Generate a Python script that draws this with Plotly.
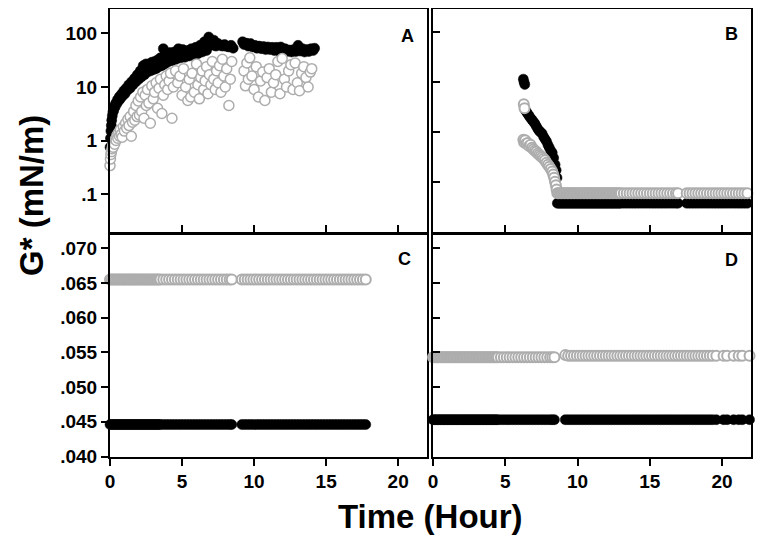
# -*- coding: utf-8 -*-
"""
G* against time, four panels (A, B: log scale; C, D: linear scale)
"""

import plotly.graph_objects as go

# %% Data

# panel A: filled (black) and open (grey) series
a_black_t = [0.00, 0.03, 0.06, 0.09, 0.12, 0.16, 0.20, 0.25, 0.30, 0.35, 0.40,
             0.46, 0.52, 0.58, 0.65, 0.72, 0.80, 0.88, 0.96, 1.04, 1.12, 1.20,
             1.30, 1.40, 1.50, 1.60, 1.70, 1.80, 1.90, 2.00, 2.10, 2.20, 2.30,
             2.40, 2.50, 2.60, 2.70, 2.80, 2.90, 3.00, 3.10, 3.20, 3.30, 3.40,
             3.50, 3.60, 3.70, 3.80, 3.90, 4.00, 4.15, 4.30, 4.45, 4.60, 4.75,
             4.90, 5.05, 5.20, 5.35, 5.50, 5.65, 5.80, 5.95, 6.10, 6.25, 6.40,
             6.55, 6.70, 6.85, 6.95, 7.05, 7.20, 7.35, 7.50, 7.65, 7.80, 7.95,
             8.10, 8.25, 8.40, 8.55,
             9.20, 9.30, 9.45, 9.60, 9.75, 9.90, 10.05, 10.20, 10.35, 10.50,
             10.65, 10.80, 10.95, 11.10, 11.25, 11.40, 11.55, 11.70, 11.85,
             12.00, 12.15, 12.30, 12.45, 12.60, 12.75, 12.90, 13.05, 13.20,
             13.35, 13.50, 13.65, 13.80, 13.95, 14.10, 14.20]
a_black = [0.75, 1.1, 1.5, 1.9, 2.4, 2.9, 3.4, 3.6, 4.4, 4.2, 5.0,
           4.8, 5.8, 5.4, 6.6, 6.0, 7.4, 6.8, 8.5, 7.5, 9.5, 8.6,
           11.0, 9.5, 12.5, 11.0, 14.5, 12.5, 17.0, 14.0, 20.0, 15.5, 25.0,
           17.0, 27.0, 19.0, 27.0, 20.0, 29.0, 21.0, 30.0, 22.0, 32.0, 24.0,
           35.0, 25.0, 52.0, 27.0, 42.0, 29.0, 44.0, 31.0, 45.0, 33.0, 52.0,
           35.0, 50.0, 36.0, 48.0, 38.0, 52.0, 39.0, 55.0, 42.0, 60.0, 45.0,
           70.0, 48.0, 86.0, 75.0, 60.0, 75.0, 58.0, 65.0, 60.0, 58.0, 62.0,
           57.0, 56.0, 60.0, 53.0,
           70.0, 62.0, 66.0, 58.0, 65.0, 56.0, 60.0, 53.0, 58.0, 52.0,
           57.0, 50.0, 56.0, 50.0, 55.0, 48.0, 55.0, 47.0, 56.0,
           46.0, 52.0, 46.0, 49.0, 45.0, 50.0, 46.0, 60.0, 47.0,
           52.0, 45.0, 50.0, 46.0, 52.0, 48.0, 53.0]

a_grey_t = [0.00, 0.03, 0.06, 0.10, 0.14, 0.18, 0.22, 0.27, 0.32, 0.37,
            0.42, 0.48, 0.54, 0.60, 0.66, 0.72, 0.78, 0.85, 0.92, 1.00,
            1.08, 1.16, 1.24, 1.32, 1.40, 1.48, 1.56, 1.64, 1.72, 1.80,
            1.88, 1.96, 2.04, 2.12, 2.20, 2.28, 2.36, 2.44, 2.52, 2.60,
            2.70, 2.80, 2.90, 3.00, 3.10, 3.20, 3.30, 3.40, 3.50, 3.60,
            3.70, 3.80, 3.90, 4.00, 4.10, 4.20, 4.30, 4.40, 4.55, 4.70,
            4.85, 5.00, 5.10, 5.25, 5.40, 5.50, 5.60, 5.70, 5.85, 6.00,
            6.10, 6.20, 6.30, 6.40, 6.50, 6.60, 6.70, 6.80, 6.90, 7.00,
            7.10, 7.20, 7.30, 7.40, 7.50, 7.60, 7.70, 7.80, 7.90, 8.00,
            8.10, 8.25, 8.35, 8.45,
            9.30, 9.40, 9.50, 9.60, 9.70, 9.85, 10.00, 10.15, 10.30, 10.45,
            10.60, 10.75, 10.90, 11.05, 11.20, 11.35, 11.50, 11.65, 11.80, 11.95,
            12.10, 12.25, 12.40, 12.55, 12.70, 12.85, 13.00, 13.15, 13.30, 13.45,
            13.60, 13.75, 13.90, 14.00]
a_grey = [0.34, 0.45, 0.55, 0.62, 0.70, 0.80, 0.75, 0.95, 0.85, 1.05,
          1.00, 1.25, 1.10, 1.40, 1.20, 1.60, 1.30, 1.15, 1.80, 1.50,
          2.10, 1.70, 2.50, 1.90, 2.80, 1.20, 2.20, 3.50, 2.40, 4.50,
          2.80, 5.50, 3.00, 6.50, 3.50, 8.0, 2.60, 7.0, 4.5, 9.0,
          5.0, 2.1, 10.5, 6.0, 8.0, 12.0, 4.0, 9.5, 14.0, 3.2,
          7.0, 11.0, 16.0, 9.0, 13.0, 18.0, 2.6, 10.0, 20.0, 12.0,
          16.0, 7.0, 22.0, 10.0, 5.6, 14.0, 6.5, 18.0, 8.0, 27.0,
          11.0, 6.0, 15.0, 20.0, 9.0, 13.0, 24.0, 7.5, 17.0, 11.0,
          30.0, 14.0, 9.0, 20.0, 12.0, 25.0, 8.0, 33.0, 16.0, 10.0,
          22.0, 4.5, 14.0, 30.0,
          20.0, 10.5, 28.0, 14.0, 35.0, 16.0, 9.0, 24.0, 6.5, 13.0,
          19.0, 5.6, 15.0, 22.0, 8.0, 12.0, 17.0, 30.0, 7.5, 34.0,
          14.0, 10.0, 20.0, 26.0, 9.0, 28.0, 12.0, 8.5, 18.0, 24.0,
          15.0, 10.0, 19.0, 22.0]

# panel B: drop after ~6 h, then a plateau sampled at shared times
b_black_drop_t = [6.25, 6.30, 6.35, 6.40, 6.48, 6.56, 6.65, 6.75, 6.85, 6.95,
                  7.05, 7.15, 7.25, 7.35, 7.45, 7.55, 7.65, 7.75, 7.85, 7.95,
                  8.05, 8.15, 8.25, 8.35, 8.45, 8.52, 8.58, 8.60]
b_black_drop = [11.5, 10.0, 9.0, 2.7, 2.5, 2.3, 2.1, 1.9, 1.75, 1.6,
                1.47, 1.3, 1.15, 1.05, 0.98, 0.93, 0.8, 0.72, 0.65, 0.55,
                0.48, 0.42, 0.38, 0.3, 0.22, 0.17, 0.12, 0.07]
b_grey_drop_t = [6.25, 6.28, 6.33, 6.30, 6.38, 6.45, 6.55, 6.65, 6.75, 6.85,
                 6.95, 7.05, 7.15, 7.25, 7.35, 7.45, 7.55, 7.65, 7.75, 7.85,
                 7.95, 8.05, 8.15, 8.25, 8.32, 8.38, 8.44, 8.50, 8.55]
b_grey_drop = [0.70, 3.6, 3.0, 0.62, 0.68, 0.58, 0.60, 0.52, 0.55, 0.48,
               0.45, 0.42, 0.40, 0.37, 0.35, 0.33, 0.31, 0.29, 0.27, 0.24,
               0.22, 0.20, 0.18, 0.16, 0.14, 0.12, 0.10, 0.085, 0.07]
b_flat_t = [8.6, 8.7, 8.8, 8.9, 9.0, 9.1, 9.2, 9.3, 9.4, 9.5, 9.6, 9.7, 9.8,
            9.9, 10.0, 10.1, 10.2, 10.3, 10.4, 10.5, 10.6, 10.7, 10.8, 10.9,
            11.0, 11.1, 11.2, 11.3, 11.4, 11.5, 11.6, 11.7, 11.8, 11.9, 12.0,
            12.1, 12.2, 12.3, 12.4, 12.5, 12.6, 12.7, 12.8, 12.9, 13.0,
            13.2, 13.4, 13.6, 13.8, 14.0, 14.2, 14.4, 14.6, 14.8, 15.0, 15.2,
            15.4, 15.6, 15.8, 16.0, 16.2, 16.4, 16.6, 16.8, 16.95,
            17.55, 17.75, 17.95, 18.15, 18.35, 18.55, 18.75, 18.95, 19.15,
            19.35, 19.55, 19.75, 19.95, 20.15, 20.35, 20.55, 20.75, 20.95,
            21.15, 21.35, 21.55, 21.75]
b_black_flat = [0.037, 0.037, 0.037, 0.037, 0.037, 0.037, 0.037, 0.037, 0.037,
                0.037, 0.037, 0.037, 0.037, 0.037, 0.037, 0.037, 0.037, 0.037,
                0.037, 0.037, 0.037, 0.037, 0.037, 0.037, 0.037, 0.037, 0.037,
                0.037, 0.037, 0.037, 0.037, 0.037, 0.037, 0.037, 0.037, 0.037,
                0.037, 0.037, 0.037, 0.037, 0.037, 0.037, 0.037, 0.037, 0.037,
                0.037, 0.037, 0.037, 0.037, 0.037, 0.037, 0.037, 0.037, 0.037,
                0.037, 0.037, 0.037, 0.037, 0.037, 0.037, 0.037, 0.037, 0.037,
                0.037, 0.037,
                0.037, 0.037, 0.037, 0.037, 0.037, 0.037, 0.037, 0.037, 0.037,
                0.037, 0.037, 0.037, 0.037, 0.037, 0.037, 0.037, 0.037, 0.037,
                0.037, 0.037, 0.037, 0.037]
b_grey_flat = [0.059, 0.059, 0.059, 0.059, 0.059, 0.059, 0.059, 0.059, 0.059,
               0.059, 0.059, 0.059, 0.059, 0.059, 0.059, 0.059, 0.059, 0.059,
               0.059, 0.059, 0.059, 0.059, 0.059, 0.059, 0.059, 0.059, 0.059,
               0.059, 0.059, 0.059, 0.059, 0.059, 0.059, 0.059, 0.059, 0.059,
               0.059, 0.059, 0.059, 0.059, 0.059, 0.059, 0.059, 0.059, 0.059,
               0.059, 0.059, 0.059, 0.059, 0.059, 0.059, 0.059, 0.059, 0.059,
               0.059, 0.059, 0.059, 0.059, 0.059, 0.059, 0.059, 0.059, 0.059,
               0.059, 0.059,
               0.059, 0.059, 0.059, 0.059, 0.059, 0.059, 0.059, 0.059, 0.059,
               0.059, 0.059, 0.059, 0.059, 0.059, 0.059, 0.059, 0.059, 0.059,
               0.059, 0.059, 0.059, 0.059]

# panel C
c_t = [0.0, 0.1, 0.2, 0.3, 0.4, 0.5, 0.6, 0.7, 0.8, 0.9, 1.0, 1.1, 1.2,
       1.3, 1.4, 1.5, 1.6, 1.7, 1.8, 1.9, 2.0, 2.1, 2.2, 2.3, 2.4, 2.5,
       2.6, 2.7, 2.8, 2.9, 3.0, 3.1, 3.2, 3.3, 3.4, 3.5,
       3.7, 3.9, 4.1, 4.3, 4.5, 4.7, 4.9, 5.1, 5.3, 5.5, 5.7, 5.9, 6.1,
       6.3, 6.5, 6.7, 6.9, 7.1, 7.3, 7.5, 7.7, 7.9, 8.1, 8.3, 8.45,
       9.15, 9.35, 9.55, 9.75, 9.95, 10.15, 10.35, 10.55, 10.75, 10.95,
       11.15, 11.35, 11.55, 11.75, 11.95, 12.15, 12.35, 12.55, 12.75, 12.95,
       13.15, 13.35, 13.55, 13.75, 13.95, 14.15, 14.35, 14.55, 14.75, 14.95,
       15.15, 15.35, 15.55, 15.75, 15.95, 16.15, 16.35, 16.55, 16.75, 16.95,
       17.15, 17.35, 17.55, 17.75]
c_black = [0.0446, 0.0446, 0.0446, 0.0446, 0.0446, 0.0446, 0.0446, 0.0446,
           0.0446, 0.0446, 0.0446, 0.0446, 0.0446, 0.0446, 0.0446, 0.0446,
           0.0446, 0.0446, 0.0446, 0.0446, 0.0446, 0.0446, 0.0446, 0.0446,
           0.0446, 0.0446, 0.0446, 0.0446, 0.0446, 0.0446, 0.0446, 0.0446,
           0.0446, 0.0446, 0.0446, 0.0446,
           0.0446, 0.0446, 0.0446, 0.0446, 0.0446, 0.0446, 0.0446, 0.0446,
           0.0446, 0.0446, 0.0446, 0.0446, 0.0446, 0.0446, 0.0446, 0.0446,
           0.0446, 0.0446, 0.0446, 0.0446, 0.0446, 0.0446, 0.0446, 0.0446,
           0.0446,
           0.0446, 0.0446, 0.0446, 0.0446, 0.0446, 0.0446, 0.0446, 0.0446,
           0.0446, 0.0446, 0.0446, 0.0446, 0.0446, 0.0446, 0.0446, 0.0446,
           0.0446, 0.0446, 0.0446, 0.0446, 0.0446, 0.0446, 0.0446, 0.0446,
           0.0446, 0.0446, 0.0446, 0.0446, 0.0446, 0.0446, 0.0446, 0.0446,
           0.0446, 0.0446, 0.0446, 0.0446, 0.0446, 0.0446, 0.0446, 0.0446,
           0.0446, 0.0446, 0.0446, 0.0446]
c_grey = [0.0655, 0.0655, 0.0655, 0.0655, 0.0655, 0.0655, 0.0655, 0.0655,
          0.0655, 0.0655, 0.0655, 0.0655, 0.0655, 0.0655, 0.0655, 0.0655,
          0.0655, 0.0655, 0.0655, 0.0655, 0.0655, 0.0655, 0.0655, 0.0655,
          0.0655, 0.0655, 0.0655, 0.0655, 0.0655, 0.0655, 0.0655, 0.0655,
          0.0655, 0.0655, 0.0655, 0.0655,
          0.0655, 0.0655, 0.0655, 0.0655, 0.0655, 0.0655, 0.0655, 0.0655,
          0.0655, 0.0655, 0.0655, 0.0655, 0.0655, 0.0655, 0.0655, 0.0655,
          0.0655, 0.0655, 0.0655, 0.0655, 0.0655, 0.0655, 0.0655, 0.0655,
          0.0655,
          0.0655, 0.0655, 0.0655, 0.0655, 0.0655, 0.0655, 0.0655, 0.0655,
          0.0655, 0.0655, 0.0655, 0.0655, 0.0655, 0.0655, 0.0655, 0.0655,
          0.0655, 0.0655, 0.0655, 0.0655, 0.0655, 0.0655, 0.0655, 0.0655,
          0.0655, 0.0655, 0.0655, 0.0655, 0.0655, 0.0655, 0.0655, 0.0655,
          0.0655, 0.0655, 0.0655, 0.0655, 0.0655, 0.0655, 0.0655, 0.0655,
          0.0655, 0.0655, 0.0655, 0.0655]

# panel D
d_t = [0.0, 0.1, 0.2, 0.3, 0.4, 0.5, 0.6, 0.7, 0.8, 0.9, 1.0, 1.1, 1.2,
       1.3, 1.4, 1.5, 1.6, 1.7, 1.8, 1.9, 2.0, 2.1, 2.2, 2.3, 2.4, 2.5,
       2.6, 2.7, 2.8, 2.9, 3.0, 3.1, 3.2, 3.3, 3.4, 3.5, 3.6, 3.7, 3.8,
       3.9, 4.0, 4.1, 4.2, 4.3, 4.4, 4.5,
       4.7, 4.9, 5.1, 5.3, 5.5, 5.7, 5.9, 6.1, 6.3, 6.5, 6.7, 6.9, 7.1,
       7.3, 7.5, 7.7, 7.9, 8.1, 8.25, 8.4,
       9.15, 9.35, 9.55, 9.75, 9.95, 10.15, 10.35, 10.55, 10.75, 10.95,
       11.15, 11.35, 11.55, 11.75, 11.95, 12.15, 12.35, 12.55, 12.75, 12.95,
       13.15, 13.35, 13.55, 13.75, 13.95, 14.15, 14.35, 14.55, 14.75, 14.95,
       15.15, 15.35, 15.55, 15.75, 15.95, 16.15, 16.35, 16.55, 16.75, 16.95,
       17.15, 17.35, 17.55, 17.75, 17.95, 18.15, 18.35, 18.55, 18.75, 18.95,
       19.15, 19.35, 19.60,
       20.10, 20.35, 20.80, 21.15, 21.40, 21.90]
d_black = [0.0453, 0.0453, 0.0453, 0.0453, 0.0453, 0.0453, 0.0453, 0.0453,
           0.0453, 0.0453, 0.0453, 0.0453, 0.0453, 0.0453, 0.0453, 0.0453,
           0.0453, 0.0453, 0.0453, 0.0453, 0.0453, 0.0453, 0.0453, 0.0453,
           0.0453, 0.0453, 0.0453, 0.0453, 0.0453, 0.0453, 0.0453, 0.0453,
           0.0453, 0.0453, 0.0453, 0.0453, 0.0453, 0.0453, 0.0453, 0.0453,
           0.0453, 0.0453, 0.0453, 0.0453, 0.0453, 0.0453,
           0.0453, 0.0453, 0.0453, 0.0453, 0.0453, 0.0453, 0.0453, 0.0453,
           0.0453, 0.0453, 0.0453, 0.0453, 0.0453, 0.0453, 0.0453, 0.0453,
           0.0453, 0.0453, 0.0453, 0.0453,
           0.0453, 0.0453, 0.0453, 0.0453, 0.0453, 0.0453, 0.0453, 0.0453,
           0.0453, 0.0453, 0.0453, 0.0453, 0.0453, 0.0453, 0.0453, 0.0453,
           0.0453, 0.0453, 0.0453, 0.0453, 0.0453, 0.0453, 0.0453, 0.0453,
           0.0453, 0.0453, 0.0453, 0.0453, 0.0453, 0.0453, 0.0453, 0.0453,
           0.0453, 0.0453, 0.0453, 0.0453, 0.0453, 0.0453, 0.0453, 0.0453,
           0.0453, 0.0453, 0.0453, 0.0453, 0.0453, 0.0453, 0.0453, 0.0453,
           0.0453, 0.0453, 0.0453, 0.0453, 0.0453,
           0.0453, 0.0453, 0.0453, 0.0453, 0.0453, 0.0453]
d_grey = [0.0543, 0.0543, 0.0543, 0.0543, 0.0543, 0.0543, 0.0543, 0.0543,
          0.0543, 0.0543, 0.0543, 0.0543, 0.0543, 0.0543, 0.0543, 0.0543,
          0.0543, 0.0543, 0.0543, 0.0543, 0.0543, 0.0543, 0.0543, 0.0543,
          0.0543, 0.0543, 0.0543, 0.0543, 0.0543, 0.0543, 0.0543, 0.0543,
          0.0543, 0.0543, 0.0543, 0.0543, 0.0543, 0.0543, 0.0543, 0.0543,
          0.0543, 0.0543, 0.0543, 0.0543, 0.0543, 0.0543,
          0.0543, 0.0543, 0.0543, 0.0543, 0.0543, 0.0543, 0.0543, 0.0543,
          0.0543, 0.0543, 0.0543, 0.0543, 0.0543, 0.0543, 0.0543, 0.0543,
          0.0543, 0.0543, 0.0543, 0.0543,
          0.0546, 0.0545, 0.0545, 0.0545, 0.0545, 0.0545, 0.0545, 0.0545,
          0.0545, 0.0545, 0.0545, 0.0545, 0.0545, 0.0545, 0.0545, 0.0545,
          0.0545, 0.0545, 0.0545, 0.0545, 0.0545, 0.0545, 0.0545, 0.0545,
          0.0545, 0.0545, 0.0545, 0.0545, 0.0545, 0.0545, 0.0545, 0.0545,
          0.0545, 0.0545, 0.0545, 0.0545, 0.0545, 0.0545, 0.0545, 0.0545,
          0.0545, 0.0545, 0.0545, 0.0545, 0.0545, 0.0545, 0.0545, 0.0545,
          0.0545, 0.0545, 0.0545, 0.0545, 0.0545,
          0.0545, 0.0545, 0.0545, 0.0545, 0.0545, 0.0545]

x_ticks = [0, 5, 10, 15, 20]
log_ticks = [0.1, 1, 10, 100]
log_labels = ['.1', '1', '10', '100']
lin_ticks = [0.040, 0.045, 0.050, 0.055, 0.060, 0.065, 0.070]
lin_labels = ['.040', '.045', '.050', '.055', '.060', '.065', '.070']
panel_names = ['A', 'B', 'C', 'D']

# %% Styling

# the page body keeps its default 8 px margin, so the figure is drawn 8 px
# in from the window corner; sizes below are chosen to fit the 764x556 view
OFF = 8
W, H = 764 - 2*OFF, 556 - 2*OFF
FONT = 'Liberation Sans, Arial, sans-serif'
GREY = '#adadad'

def px_x(p):
    """window pixel -> paper x"""
    return (p - OFF) / W

def px_y(p):
    """window pixel -> paper y"""
    return 1 - (p - OFF) / H

def base_axis(domain, anchor, ticks, labels = True, **kwargs):
    ax = dict(domain = domain, anchor = anchor, automargin = False,
              showline = True, linecolor = 'black', linewidth = 2,
              mirror = True, showgrid = False, zeroline = False,
              ticks = ticks, ticklen = 7, tickwidth = 2, tickcolor = 'black',
              showticklabels = labels,
              tickfont = dict(family = FONT, size = 19, color = 'black',
                              weight = 'bold'))
    ax.update(kwargs)
    return ax

def add_pair(fig, xa, ya, tb, yb, tg, yg, gw = 1.5):
    """Black filled series first, grey open circles on top."""
    fig.add_trace(go.Scatter(x = tb, y = yb, xaxis = xa, yaxis = ya,
                             mode = 'markers', cliponaxis = False,
                             marker = dict(size = 10, color = 'black',
                                           line = dict(width = 0.5, color = 'black'))))
    fig.add_trace(go.Scatter(x = tg, y = yg, xaxis = xa, yaxis = ya,
                             mode = 'markers', cliponaxis = False,
                             marker = dict(size = 10, color = 'white',
                                           line = dict(width = gw, color = GREY))))

# %% Figure

left = [px_x(110), px_x(427)]
right = [px_x(433), px_x(751)]
top = [px_y(231.5), px_y(9)]
bottom = [px_y(456.5), px_y(235)]

fig = go.Figure()
add_pair(fig, 'x', 'y', a_black_t, a_black, a_grey_t, a_grey)
add_pair(fig, 'x2', 'y2', b_black_drop_t + b_flat_t, b_black_drop + b_black_flat,
         b_grey_drop_t + b_flat_t, b_grey_drop + b_grey_flat, gw = 2)
add_pair(fig, 'x3', 'y3', c_t, c_black, c_t, c_grey, gw = 2)
add_pair(fig, 'x4', 'y4', d_t, d_black, d_t, d_grey, gw = 2)

xcommon = dict(range = [0, 22], tickvals = x_ticks)
fig.update_layout(
    width = W, height = H,
    margin = dict(l = 0, r = 0, t = 0, b = 0),
    paper_bgcolor = 'white', plot_bgcolor = 'white',
    showlegend = False,
    xaxis = base_axis(left, 'y', 'inside', False, **xcommon),
    xaxis2 = base_axis(right, 'y2', 'inside', False, **xcommon),
    xaxis3 = base_axis(left, 'y3', 'outside', True, **xcommon),
    xaxis4 = base_axis(right, 'y4', 'outside', True, **xcommon),
    yaxis = base_axis(top, 'x', 'outside', True, type = 'log',
                      range = [-1.70, 2.457], tickvals = log_ticks,
                      ticktext = log_labels),
    yaxis2 = base_axis(top, 'x2', 'inside', False, type = 'log',
                       range = [-2.0, 2.47], tickvals = log_ticks),
    yaxis3 = base_axis(bottom, 'x3', 'outside', True, range = [0.040, 0.0719],
                       tickvals = lin_ticks, ticktext = lin_labels),
    yaxis4 = base_axis(bottom, 'x4', 'inside', False, range = [0.040, 0.0719],
                       tickvals = lin_ticks),
    )

# panel letters
letter_pos = [(407, 35.5), (731, 34), (404, 258.5), (731.5, 260)]
for name, (lx, ly) in zip(panel_names, letter_pos):
    fig.add_annotation(text = name, x = px_x(lx), y = px_y(ly),
                       xref = 'paper', yref = 'paper', showarrow = False,
                       xanchor = 'center', yanchor = 'middle',
                       font = dict(family = FONT, size = 18, color = 'black',
                                   weight = 'bold'))

fig.add_annotation(text = 'Time (Hour)', x = px_x(430), y = px_y(516),
                   xref = 'paper', yref = 'paper', showarrow = False,
                   xanchor = 'center', yanchor = 'middle',
                   font = dict(family = FONT, size = 33, color = 'black',
                               weight = 'bold'))
# rotated box sits ~10 px above its anchor, hence 196 for a centre near 186
fig.add_annotation(text = 'G* (mN/m)', x = px_x(32), y = px_y(196),
                   xref = 'paper', yref = 'paper', showarrow = False,
                   textangle = -90, xanchor = 'center', yanchor = 'middle',
                   font = dict(family = FONT, size = 33, color = 'black',
                               weight = 'bold'))

fig.write_html("out.html")
